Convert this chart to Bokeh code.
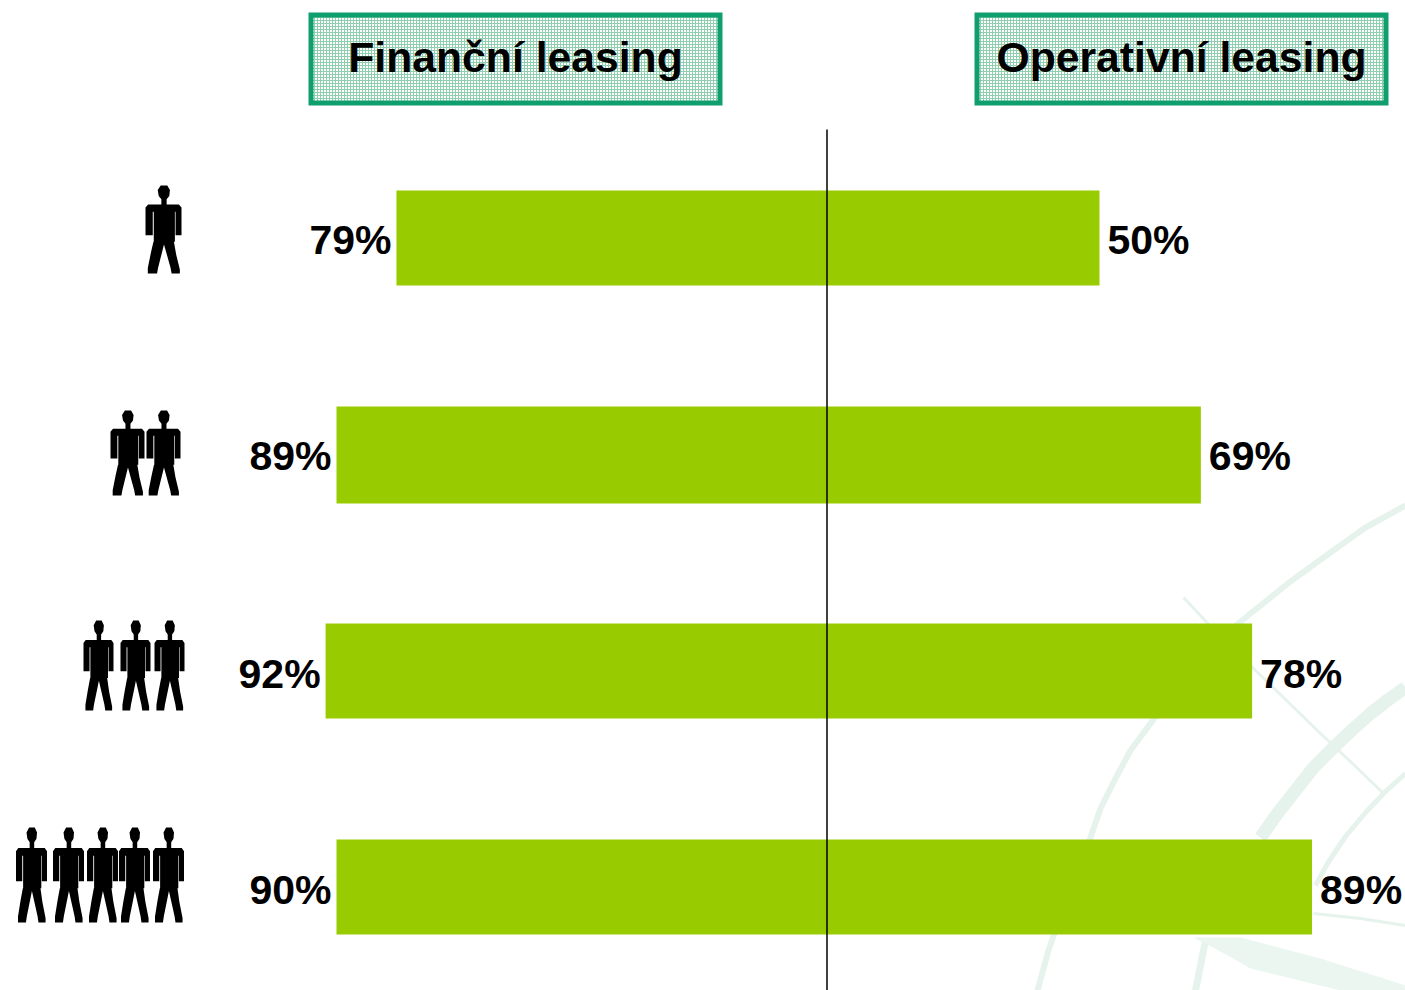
from bokeh.plotting import figure
from bokeh.embed import file_html
from bokeh.resources import INLINE
from bokeh.core.properties import value

# ---- data ----
row_px = [237.5, 454.5, 670.5, 886.5]
bar_px = [95, 97, 95, 95]
label_px = [239, 455.5, 673, 889.5]
people_counts = [1, 2, 3, 5]
left_values = [79, 90, 92, 90]
left_labels = ["79%", "89%", "92%", "90%"]
right_values = [50, 68.6, 78, 89]
right_labels = ["50%", "69%", "78%", "89%"]
headers = ["Finanční leasing", "Operativní leasing"]

# ---- page geometry (window pixels) ----
W, H = 1405, 990
OX, OY = 0, 0
AXIS_PX, PX_PER_PCT = 826.5, 5.45
ROW0_PX, PX_PER_ROW = 886.5, 216.5

def dx(px):
    return (px - AXIS_PX) / PX_PER_PCT

def dy(py):
    return (ROW0_PX - py) / PX_PER_ROW

def xs(seq):
    return [dx(v) for v in seq]

def ys(seq):
    return [dy(v) for v in seq]

rows = ys(row_px)
label_rows = ys(label_px)

p = figure(width=W, height=H, x_range=(dx(OX), dx(OX + W)), y_range=(dy(OY + H), dy(OY)),
           toolbar_location=None, output_backend="svg", min_border=0,
           background_fill_color="white", border_fill_color="white", outline_line_color=None)
p.xaxis.visible = False
p.yaxis.visible = False
p.grid.visible = False

# ---- faint watermark (decoration, window pixels) ----
WM = "#e6f3ec"
wm_lines = [
    ([1405, 1365, 1330, 1290, 1250, 1220, 1195, 1170, 1150, 1130, 1115, 1100, 1090, 1075, 1060, 1048, 1037],
     [505, 527, 552, 581, 613, 638, 665, 695, 723, 750, 778, 808, 837, 875, 915, 950, 990], 6),
    ([1405, 1388, 1370, 1352, 1333, 1313, 1295, 1277, 1260],
     [687, 699, 713, 729, 747, 767, 790, 813, 837], 13),
    ([1405, 1385, 1365, 1345, 1327, 1315], [773, 791, 812, 836, 863, 885], 5),
    ([1183, 1215, 1250, 1285, 1320, 1352, 1383], [597, 631, 665, 699, 733, 763, 793], 3),
    ([1313, 1360, 1405], [913, 918, 925], 3),
    ([1205, 1200, 1195], [940, 965, 990], 7),
]
for lx, ly, lw in wm_lines:
    p.line(xs(lx), ys(ly), line_color=WM, line_width=lw, line_join="round")
p.patch(xs([1193, 1240, 1320, 1405, 1405, 1340, 1250, 1222]), ys([937, 937, 958, 985, 990, 990, 968, 952]),
        fill_color="#ebf6f0", line_color=None)

# ---- header boxes ----
box_l, box_r = [308, 974], [722, 1388]
for i, t in enumerate(headers):
    p.quad(left=[dx(box_l[i] + 2.5)], right=[dx(box_r[i] - 2.5)], top=[dy(14.5)], bottom=[dy(102.5)],
           fill_color="#ffffff", line_color="#0f9f6e", line_width=5, line_join="miter",
           hatch_pattern="cross", hatch_color="#8fcfb0", hatch_scale=3, hatch_weight=1)
    p.text([dx((box_l[i] + box_r[i]) / 2)], [dy(56)], text=[t], text_font=value("Liberation Sans"),
           text_font_style="bold", text_font_size="42.7px", text_align="center",
           text_baseline="middle", text_color="black")

# ---- bars ----
bar_h = [b / PX_PER_ROW for b in bar_px]
p.hbar(y=rows, left=[-v for v in left_values], right=0, height=bar_h, fill_color="#99cc00", line_color=None)
p.hbar(y=rows, left=0, right=right_values, height=bar_h, fill_color="#99cc00", line_color=None)

# ---- centre line ----
p.segment(x0=[0], x1=[0], y0=[dy(129)], y1=[dy(990)], line_color="black", line_width=1.5)

# ---- value labels ----
p.text([-v for v in left_values], label_rows, text=left_labels, text_font=value("Liberation Sans"),
       text_font_style="bold", text_font_size="41px", text_align="right", text_baseline="middle",
       text_color="black", x_offset=-5)
p.text(right_values, label_rows, text=right_labels, text_font=value("Liberation Sans"),
       text_font_style="bold", text_font_size="41px", text_align="left", text_baseline="middle",
       text_color="black", x_offset=8)

# ---- people pictograms ----
shape = [(90,28),(110,28),(118,42),(116,60),(108,70),(108,86),(145,86),(153,95),(153,180),(135,180),
         (135,108),(133,108),(133,200),(130,200),(137,240),(148,285),(148,297),(123,297),(120,280),
         (100,208),(82,280),(79,297),(51,297),(51,280),(60,235),(68,200),(69,200),(69,108),(66,108),
         (66,180),(44,180),(44,95),(52,86),(92,86),(92,70),(84,60),(81,42)]
person_x = [[163], [127, 163], [98, 135, 169], [31, 68, 102, 134, 168]]
person_w = [36, 34, 30, 31]
person_top = [185, 410, 620, 827]
person_bot = [273, 495, 710, 922]
for r, cx_list in enumerate(person_x):
    assert len(cx_list) == people_counts[r]
    sy = (person_bot[r] - person_top[r]) / (297 - 28)
    sx = person_w[r] / (153 - 44)
    for cx in cx_list:
        p.patch(xs([cx + (a - 98.5) * sx for a, _ in shape]),
                ys([person_top[r] + (b - 28) * sy for _, b in shape]),
                fill_color="black", line_color=None)

open("out.html", "w").write(file_html(p, INLINE))
